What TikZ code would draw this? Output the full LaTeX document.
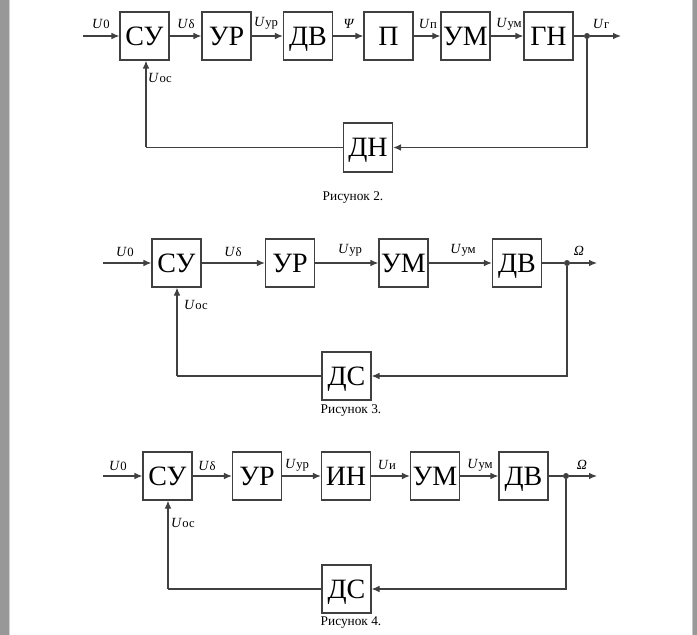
\documentclass[tikz,border=0pt]{standalone}
\usepackage{fontspec}
\setmainfont{Liberation Serif}
\usetikzlibrary{arrows.meta}
\definecolor{ln}{HTML}{404040}
\definecolor{bar}{HTML}{989898}
\tikzset{
  blk/.style={draw=ln, line width=0.9pt, minimum width=36.75pt, minimum height=36pt, inner sep=0pt, text height=14pt, text depth=0pt, font=\fontsize{21}{21}\selectfont},
  conn/.style={draw=ln, line width=0.9pt},
  arr/.style={conn, -{Latex[length=6pt,width=5pt]}},
  lbl/.style={inner sep=0pt, font=\fontsize{10.5}{11}\selectfont},
  figcap/.style={inner sep=0pt, font=\fontsize{10}{11}\selectfont},
  jdot/.style={circle, fill=ln, inner sep=0pt, minimum size=4.5pt}
}
\newcommand{\sig}[1]{\textit{U}\kern0.3pt{\fontsize{9.5}{10}\selectfont #1}}
\begin{document}
\begin{tikzpicture}[x=0.75pt,y=-0.75pt]
\useasboundingbox (0,0) rectangle (697,635);
\fill[white] (0,0) rectangle (697,635);
\fill[bar] (691.5,0) rectangle (697,635);
\fill[bar!55] (691.5,0) rectangle (692.5,635);
\fill[bar] (0,0) rectangle (9,635);
\fill[bar!45] (9,0) rectangle (10,635);

% ---------- Diagram 1 ----------
\coordinate (a0) at (83,36);
\node[blk] (a1) at (144.5,36) {СУ};
\node[blk] (a2) at (226.5,36) {УР};
\node[blk] (a3) at (308,36) {ДВ};
\node[blk] (a4) at (388.5,36) {П};
\node[blk] (a5) at (465.5,36) {УМ};
\node[blk] (a6) at (548.5,36) {ГН};
\node[jdot] (aj) at (587,36) {};
\coordinate (ae) at (621,36);
\node[blk, minimum height=36.75pt] (afb) at (368,147.5) {ДН};
\coordinate (ar) at (587,147.5);
\coordinate (al) at (146,147.5);
\draw[arr] (a0) -- (a1);
\draw[arr] (a1) -- (a2);
\draw[arr] (a2) -- (a3);
\draw[arr] (a3) -- (a4);
\draw[arr] (a4) -- (a5);
\draw[arr] (a5) -- (a6);
\draw[conn] (a6) -- (aj);
\draw[arr] (aj) -- (ae);
\draw[arr] (aj) -- (ar) -- (afb);
\draw[conn] (afb) -- (al);
\draw[arr] (al) -- (a1.south -| al);
\node[lbl] (la0) at (101,24) {\sig{0}};
\node[lbl] (la1) at (186,24) {\sig{δ}};
\node[lbl] (la2) at (266,23) {\sig{ур}};
\node[lbl] (la3) at (349,24) {\textit{Ψ}};
\node[lbl] (la4) at (428,24) {\sig{п}};
\node[lbl] (la5) at (509,24) {\sig{ум}};
\node[lbl] (la6) at (601,24) {\sig{г}};
\node[lbl] (la7) at (160,78) {\sig{ос}};
\node[figcap] (ca) at (353,198) {Рисунок 2.};

% ---------- Diagram 2 ----------
\coordinate (b0) at (103,263);
\node[blk] (b1) at (176.5,263) {СУ};
\node[blk] (b2) at (290,263) {УР};
\node[blk] (b3) at (403.5,263) {УМ};
\node[blk] (b4) at (517,263) {ДВ};
\node[jdot] (bj) at (567,263) {};
\coordinate (be) at (597,263);
\node[blk] (bfb) at (346.5,376) {ДС};
\coordinate (br) at (567,376);
\coordinate (bl) at (177,376);
\draw[arr] (b0) -- (b1);
\draw[arr] (b1) -- (b2);
\draw[arr] (b2) -- (b3);
\draw[arr] (b3) -- (b4);
\draw[conn] (b4) -- (bj);
\draw[arr] (bj) -- (be);
\draw[arr] (bj) -- (br) -- (bfb);
\draw[conn] (bfb) -- (bl);
\draw[arr] (bl) -- (b1.south -| bl);
\node[lbl] (lb0) at (125,252) {\sig{0}};
\node[lbl] (lb1) at (233,252) {\sig{δ}};
\node[lbl] (lb2) at (350,250) {\sig{ур}};
\node[lbl] (lb3) at (463,250) {\sig{ум}};
\node[lbl] (lb4) at (579,251) {\textit{Ω}};
\node[lbl] (lb5) at (196,305) {\sig{ос}};
\node[figcap] (cb) at (351,411) {Рисунок 3.};

% ---------- Diagram 3 ----------
\coordinate (c0) at (103,476);
\node[blk] (c1) at (167.5,476) {СУ};
\node[blk] (c2) at (257,476) {УР};
\node[blk] (c3) at (346,476) {ИН};
\node[blk] (c4) at (435,476) {УМ};
\node[blk] (c5) at (523.5,476) {ДВ};
\node[jdot] (cj) at (566,476) {};
\coordinate (ce) at (597,476);
\node[blk] (cfb) at (346.5,589) {ДС};
\coordinate (cr) at (566,589);
\coordinate (cl) at (168,589);
\draw[arr] (c0) -- (c1);
\draw[arr] (c1) -- (c2);
\draw[arr] (c2) -- (c3);
\draw[arr] (c3) -- (c4);
\draw[arr] (c4) -- (c5);
\draw[conn] (c5) -- (cj);
\draw[arr] (cj) -- (ce);
\draw[arr] (cj) -- (cr) -- (cfb);
\draw[conn] (cfb) -- (cl);
\draw[arr] (cl) -- (c1.south -| cl);
\node[lbl] (lc0) at (118,466) {\sig{0}};
\node[lbl] (lc1) at (207,466) {\sig{δ}};
\node[lbl] (lc2) at (297,465) {\sig{ур}};
\node[lbl] (lc3) at (387,465) {\sig{и}};
\node[lbl] (lc4) at (480,465) {\sig{ум}};
\node[lbl] (lc5) at (582,465) {\textit{Ω}};
\node[lbl] (lc6) at (183,523) {\sig{ос}};
\node[figcap] (cc) at (351,623) {Рисунок 4.};
\end{tikzpicture}
\end{document}
